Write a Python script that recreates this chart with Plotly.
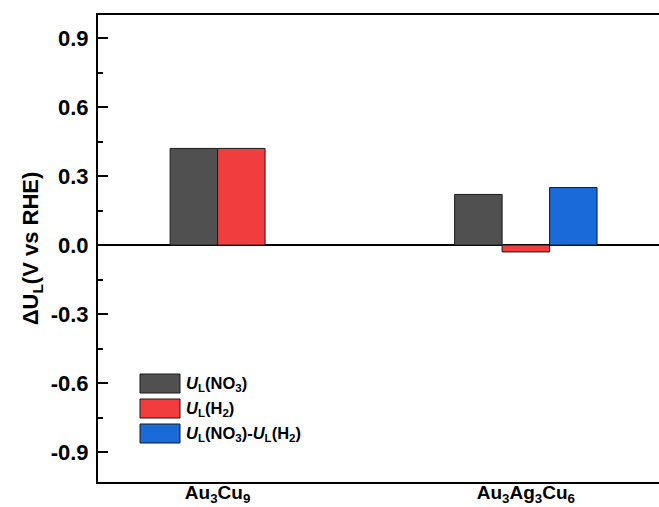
import plotly.graph_objects as go

# Catalyst categories and limiting potentials (V vs RHE)
categories = ["Au<sub>3</sub>Cu<sub>9</sub>", "Au<sub>3</sub>Ag<sub>3</sub>Cu<sub>6</sub>"]
u_no3 = [0.42, 0.22]
u_h2 = [0.42, -0.03]
u_diff = [None, 0.25]

y_ticks = [-0.9, -0.6, -0.3, 0.0, 0.3, 0.6, 0.9]
y_tick_labels = ["-0.9", "-0.6", "-0.3", "0.0", "0.3", "0.6", "0.9"]

series_names = [
    "<i>U</i><sub>L</sub>(NO<sub>3</sub>)",
    "<i>U</i><sub>L</sub>(H<sub>2</sub>)",
    "<i>U</i><sub>L</sub>(NO<sub>3</sub>)-<i>U</i><sub>L</sub>(H<sub>2</sub>)",
]
series_values = [u_no3, u_h2, u_diff]
colors = ["#505050", "#f23d3f", "#1b6ad9"]

FONT = "Arial, 'Liberation Sans', sans-serif"
bar_w = 0.154
cat_pos = [1, 2]

fig = go.Figure()

# bars inside each category are packed side by side, centred on the category
for s, (name, vals, col) in enumerate(zip(series_names, series_values, colors)):
    xs, ys = [], []
    for i, c in enumerate(cat_pos):
        present = [k for k in range(len(series_values)) if series_values[k][i] is not None]
        if vals[i] is None:
            continue
        idx = present.index(s)
        offset = (idx - (len(present) - 1) / 2) * bar_w
        xs.append(c + offset)
        ys.append(vals[i])
    fig.add_trace(go.Bar(
        x=xs, y=ys, width=bar_w, name=name,
        marker=dict(color=col, line=dict(color="#1a1a1a", width=1)),
        showlegend=False,
    ))

# legend drawn as swatches + labels in the lower-left corner
W, H = 659, 507
ml, mr, mt, mb = 98, 0, 15, 25
pw, ph = W - ml - mr, H - mt - mb
def px(x):
    return (x - ml) / pw
def py(y):
    return (H - mb - y) / ph

leg_top = 374
for k, (name, col) in enumerate(zip(series_names, colors)):
    y0 = leg_top + k * 25
    fig.add_shape(type="rect", xref="paper", yref="paper",
                  x0=px(140), x1=px(180), y0=py(y0 + 19), y1=py(y0),
                  fillcolor=col, line=dict(color="#1a1a1a", width=1))
    fig.add_annotation(xref="paper", yref="paper", x=px(184), y=py(y0 + 9.5),
                       text="<b>" + name + "</b>", showarrow=False,
                       xanchor="left", yanchor="middle",
                       font=dict(family=FONT, size=16.5, color="black"))

fig.update_layout(
    width=W, height=H,
    margin=dict(l=ml, r=mr, t=mt, b=mb, pad=0),
    plot_bgcolor="white", paper_bgcolor="white",
    barmode="overlay",
    font=dict(family=FONT, color="black"),
    xaxis=dict(
        range=[0.612, 2.432],
        tickvals=cat_pos,
        ticktext=["<b>" + c + "</b>" for c in categories],
        tickfont=dict(family=FONT, size=19, color="black"),
        ticks="", showgrid=False, zeroline=False,
        showline=True, linecolor="black", linewidth=2, mirror=True,
        ticklabelstandoff=-8, automargin=False,
    ),
    yaxis=dict(
        range=[-1.03, 1.0],
        tickvals=y_ticks,
        ticktext=["<b>" + t + "</b>" for t in y_tick_labels],
        tickfont=dict(family=FONT, size=22, color="black"),
        ticks="inside", ticklen=10, tickwidth=2, tickcolor="black",
        minor=dict(ticks="inside", ticklen=5, tickwidth=2, tickcolor="black", dtick=0.15, tick0=0),
        showgrid=False,
        zeroline=True, zerolinecolor="black", zerolinewidth=1.5,
        showline=True, linecolor="black", linewidth=2, mirror=False,
        ticklabelstandoff=3, automargin=False,
        title=dict(text="<b>ΔU<sub>L</sub>(V vs RHE)</b>",
                   font=dict(family=FONT, size=22, color="black"), standoff=6),
    ),
)

fig.write_html("out.html")
